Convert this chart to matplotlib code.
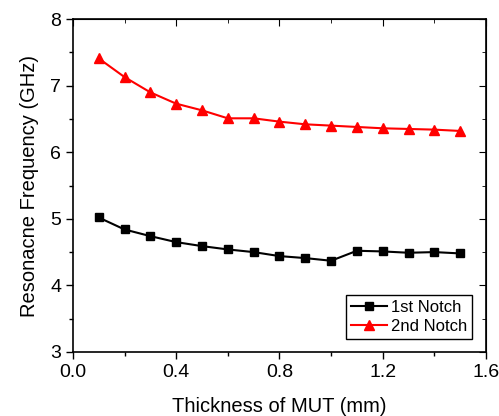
import numpy as np
import matplotlib
matplotlib.use("Agg")
import matplotlib.pyplot as plt
from matplotlib.ticker import MultipleLocator

plt.rcParams['font.family'] = ['Liberation Sans', 'DejaVu Sans']

thickness = [0.1, 0.2, 0.3, 0.4, 0.5, 0.6, 0.7, 0.8, 0.9, 1.0, 1.1, 1.2, 1.3, 1.4, 1.5]
notch1 = [5.02, 4.84, 4.74, 4.65, 4.59, 4.54, 4.50, 4.44, 4.41, 4.37, 4.52, 4.51, 4.49, 4.50, 4.48]
notch2 = [7.41, 7.13, 6.90, 6.73, 6.63, 6.51, 6.51, 6.46, 6.42, 6.40, 6.38, 6.36, 6.35, 6.34, 6.32]

fig = plt.figure(figsize=(4.99, 4.16), dpi=100)
ax = fig.add_axes([0.146, 0.154, 0.828, 0.800])

ax.plot(thickness, notch1, color='black', marker='s', markersize=5.5, linewidth=1.5, label='1st Notch')
ax.plot(thickness, notch2, color='red', marker='^', markersize=6.5, linewidth=1.5, label='2nd Notch')

ax.set_xlim(0.0, 1.6)
ax.set_ylim(3, 8)
ax.xaxis.set_major_locator(MultipleLocator(0.4))
ax.xaxis.set_minor_locator(MultipleLocator(0.2))
ax.yaxis.set_major_locator(MultipleLocator(1))
ax.yaxis.set_minor_locator(MultipleLocator(0.5))
ax.xaxis.set_major_formatter(matplotlib.ticker.FormatStrFormatter('%.1f'))

ax.tick_params(which='both', direction='out', labelsize=14, width=1)
ax.tick_params(which='major', length=5)
ax.tick_params(which='minor', length=3)
# inward ticks on top and right
ax2 = ax.secondary_xaxis('top')
ax2.xaxis.set_major_locator(MultipleLocator(0.4))
ax2.xaxis.set_minor_locator(MultipleLocator(0.2))
ax2.tick_params(which='both', direction='in', labeltop=False)
ax2.tick_params(which='major', length=5)
ax2.tick_params(which='minor', length=3)
ax3 = ax.secondary_yaxis('right')
ax3.yaxis.set_major_locator(MultipleLocator(1))
ax3.yaxis.set_minor_locator(MultipleLocator(0.5))
ax3.tick_params(which='both', direction='in', labelright=False)
ax3.tick_params(which='major', length=5)
ax3.tick_params(which='minor', length=3)

for s in ax.spines.values():
    s.set_linewidth(1.2)

ax.set_xlabel('Thickness of MUT (mm)', fontsize=14.5, labelpad=12)
ax.set_ylabel('Resonacne Frequency (GHz)', fontsize=14.5, labelpad=8)

leg = ax.legend(loc='lower right', fontsize=12, fancybox=False, edgecolor='black',
                framealpha=1, handlelength=2.2, handletextpad=0.2, borderpad=0.3,
                labelspacing=0.2, borderaxespad=0, bbox_to_anchor=(0.966, 0.04))
leg.get_frame().set_linewidth(1.0)

fig.savefig('out.png', dpi=100)
